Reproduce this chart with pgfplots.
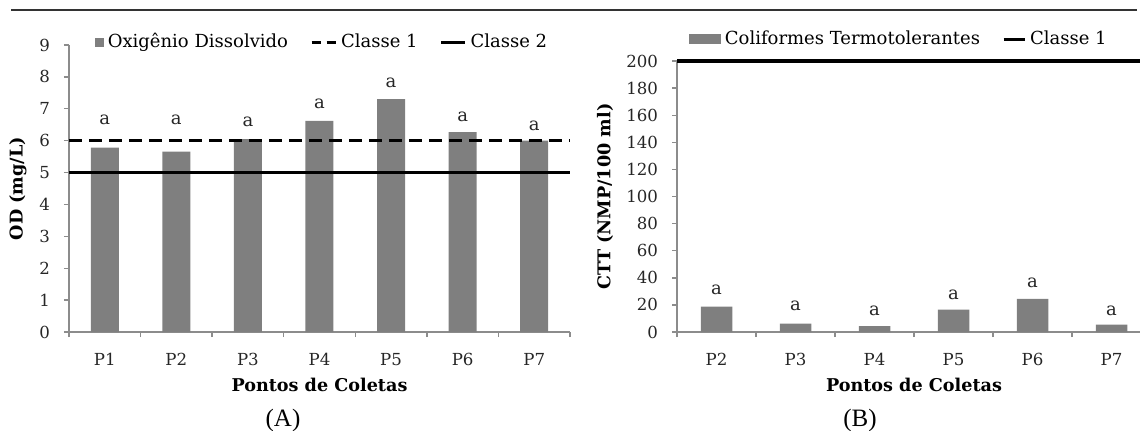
\documentclass[border=0pt]{standalone}
\usepackage{fontspec}
\setmainfont{DejaVu Serif}
\newfontfamily\capfont{Liberation Serif}
\newfontfamily\labfont{DejaVu Serif}[UprightFont={* Bold}]
\usepackage{pgfplots}
\pgfplotsset{compat=1.18}

\definecolor{barc}{HTML}{7F7F7F}
\definecolor{axc}{HTML}{8C8C8C}

\pgfplotsset{
  mystyle/.style={
    scale only axis,
    axis x line*=bottom, axis y line*=left,
    axis line style={axc, line width=0.7pt},
    tick style={axc, line width=0.7pt},
    tick align=outside,
    major tick length=2.5pt,
    /pgf/number format/assume math mode=true,
    ticklabel style={font=\fontsize{8.3}{10}\selectfont, text=black!85},
    yticklabel style={xshift=-3.5pt},
    xticklabels={},
    extra x tick style={major tick length=0pt, tick label style={yshift=-7pt}},
    every axis x label/.style={at={(axis description cs:0.5,0)}, anchor=center, yshift=-26.5pt,
      font=\labfont\fontsize{8.8}{10}\selectfont},
    clip=false,
    legend style={draw=none, fill=none, font=\fontsize{9}{11}\selectfont,
      /tikz/every odd column/.append style={column sep=0pt},
      /tikz/every even column/.append style={column sep=9pt}},
    legend columns=-1,
  },
  anode/.style={draw=none, mark=none, forget plot, nodes near coords={a},
    every node near coord/.style={anchor=center, font=\fontsize{9}{10}\selectfont, text=black!85}},
}

\begin{document}
\begin{tikzpicture}
\draw[black!80, line width=0.75pt] (5.5pt,210pt) -- (568.5pt,210pt);

% ---------- (A) ----------
\begin{axis}[mystyle,
  at={(34.5pt,49pt)}, anchor=south west,
  width=250.5pt, height=143.5pt,
  xmin=0.5, xmax=7.5, ymin=0, ymax=9,
  ytick={0,1,...,9},
  xtick={0.5,1.5,...,7.5},
  extra x ticks={1,2,3,4,5,6,7},
  extra x tick labels={P1,P2,P3,P4,P5,P6,P7},
  xlabel={Pontos de Coletas},
  ylabel={OD (mg/L)},
  every axis y label/.style={at={(axis description cs:0,0.5)}, xshift=-25.5pt, rotate=90, anchor=center,
    font=\labfont\fontsize{8.8}{10}\selectfont},
  legend style={at={(0.507,1.01)}, anchor=center},
]
\addplot[ybar, bar width=14pt, bar shift=0pt, fill=barc, draw=none,
  legend image code/.code={\fill[barc] (0pt,-2.25pt) rectangle (4.5pt,2.25pt);}]
  coordinates {(1,5.78) (2,5.66) (3,6.05) (4,6.62) (5,7.30) (6,6.27) (7,6.00)};
\addlegendentry{Oxigênio Dissolvido}
\addplot[black, line width=1.5pt, dash pattern=on 6.5pt off 3.5pt,
  legend image code/.code={\draw[black, line width=1.5pt, dash pattern=on 4.5pt off 3pt] (0pt,0pt) -- (12pt,0pt);}]
  coordinates {(0.5,6) (7.5,6)};
\addlegendentry{Classe 1}
\addplot[black, line width=1.6pt,
  legend image code/.code={\draw[black, line width=1.5pt] (0pt,0pt) -- (12pt,0pt);}]
  coordinates {(0.5,5) (7.5,5)};
\addlegendentry{Classe 2}
\addplot[anode] coordinates {(1,6.66) (2,6.66) (3,6.60) (4,7.15) (5,7.80) (6,6.76) (7,6.45)};
\end{axis}

% ---------- (B) ----------
\begin{axis}[mystyle,
  at={(338.5pt,49pt)}, anchor=south west,
  width=237pt, height=135.5pt,
  xmin=0.5, xmax=6.5, ymin=0, ymax=200,
  ytick={0,20,...,200},
  xtick={0.5,1.5,...,6.5},
  extra x ticks={1,2,3,4,5,6},
  extra x tick labels={P2,P3,P4,P5,P6,P7},
  xlabel={Pontos de Coletas},
  ylabel={CTT (NMP/100 ml)},
  every axis y label/.style={at={(axis description cs:0,0.5)}, xshift=-36pt, rotate=90, anchor=center,
    font=\labfont\fontsize{8.8}{10}\selectfont},
  legend style={at={(0.47,1.081)}, anchor=center},
]
\addplot[ybar, bar width=15.75pt, bar shift=0pt, fill=barc, draw=none,
  legend image code/.code={\fill[barc] (0pt,-2.5pt) rectangle (16pt,2.5pt);}]
  coordinates {(1,18.8) (2,6.2) (3,4.4) (4,16.5) (5,24.4) (6,5.4)};
\addlegendentry{Coliformes Termotolerantes}
\addplot[black, line width=2pt,
  legend image code/.code={\draw[black, line width=1.5pt] (0pt,0pt) -- (10.5pt,0pt);}]
  coordinates {(0.5,200) (6.5,200)};
\addlegendentry{Classe 1}
\addplot[anode] coordinates {(1,30.9) (2,19.0) (3,15.8) (4,27.7) (5,36.3) (6,15.8)};
\end{axis}

\node[font=\capfont\fontsize{12.5}{14}\selectfont] at (141.5pt,5pt) {(A)};
\node[font=\capfont\fontsize{12.5}{14}\selectfont] at (430pt,5pt) {(B)};

\pgfresetboundingbox
\useasboundingbox (0,0) rectangle (570pt,215pt);
\end{tikzpicture}
\end{document}
